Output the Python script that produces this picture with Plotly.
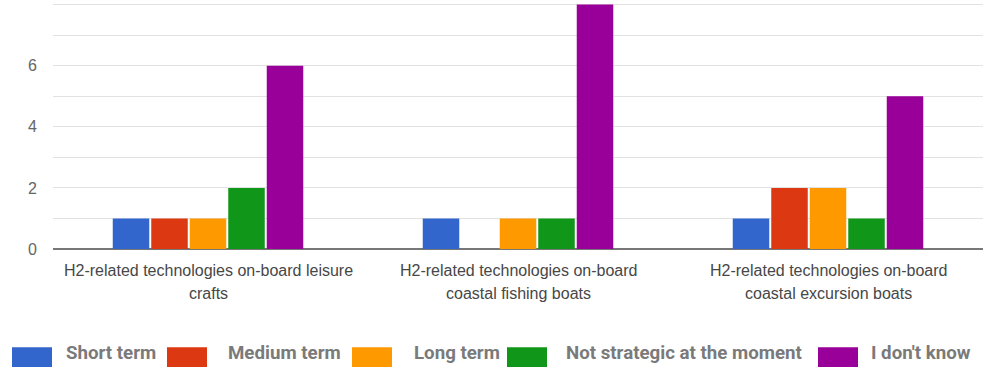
import plotly.graph_objects as go

categories = [
    "H2-related technologies on-board leisure<br>crafts",
    "H2-related technologies on-board<br>coastal fishing boats",
    "H2-related technologies on-board<br>coastal excursion boats",
]
series_names = ["Short term", "Medium term", "Long term", "Not strategic at the moment", "I don't know"]
short_term = [1, 1, 1]
medium_term = [1, 0, 2]
long_term = [1, 1, 2]
not_strategic = [2, 1, 1]
dont_know = [6, 8, 5]
series_values = [short_term, medium_term, long_term, not_strategic, dont_know]
colors = ["#3366CC", "#DC3912", "#FF9900", "#109618", "#990099"]

W, H = 990, 367
L, R, T, B = 53, 7, 0, 117.5
pw, ph = W - L - R, H - T - B

fig = go.Figure()
for name, vals, col in zip(series_names, series_values, colors):
    fig.add_trace(go.Bar(x=categories, y=vals, name=name, marker=dict(color=col, line=dict(width=0)),
                         showlegend=False))

annotations = []
# category labels, line by line
for cat in categories:
    for i, line in enumerate(cat.split("<br>")):
        annotations.append(dict(x=cat, xref="x", y=(-22 - 23 * i) / ph, yref="paper",
                                text=line, showarrow=False, xanchor="center", yanchor="middle",
                                font=dict(family="Arial", size=16, color="#474747")))

# custom legend
swatch_x = [12, 167, 352, 507, 818]
text_x = [64, 226, 412, 564, 869]
for sx, tx, name, col in zip(swatch_x, text_x, series_names, colors):
    fig.add_shape(type="rect", xref="paper", yref="paper",
                  x0=(sx - L) / pw, x1=(sx + 40 - L) / pw,
                  y0=(ph - 348) / ph, y1=(ph - 372) / ph,
                  fillcolor=col, line=dict(width=0))
    annotations.append(dict(x=(tx - L) / pw, xref="paper", y=(ph - 354) / ph, yref="paper",
                            text="<b>" + name + "</b>", showarrow=False, xanchor="left", yanchor="middle",
                            font=dict(family="Roboto", size=18.7, color="#7a7a7a")))

fig.update_layout(
    width=W, height=H,
    margin=dict(l=L, r=R, t=T, b=B),
    paper_bgcolor="white", plot_bgcolor="white",
    barmode="group", bargap=0.379, bargroupgap=0.052,
    annotations=annotations,
    xaxis=dict(showticklabels=False, showgrid=False, zeroline=False, showline=False, ticks=""),
    yaxis=dict(range=[0, 8.15], dtick=2, tick0=0, showgrid=True, gridcolor="#e2e2e2", gridwidth=1,
               minor=dict(dtick=1, showgrid=True, gridcolor="#e2e2e2", gridwidth=1),
               zeroline=True, zerolinecolor="#777777", zerolinewidth=2,
               tickfont=dict(family="Arial", size=16, color="#666666"),
               ticks="outside", ticklen=12, tickcolor="rgba(0,0,0,0)"),
)
fig.write_html("out.html")
